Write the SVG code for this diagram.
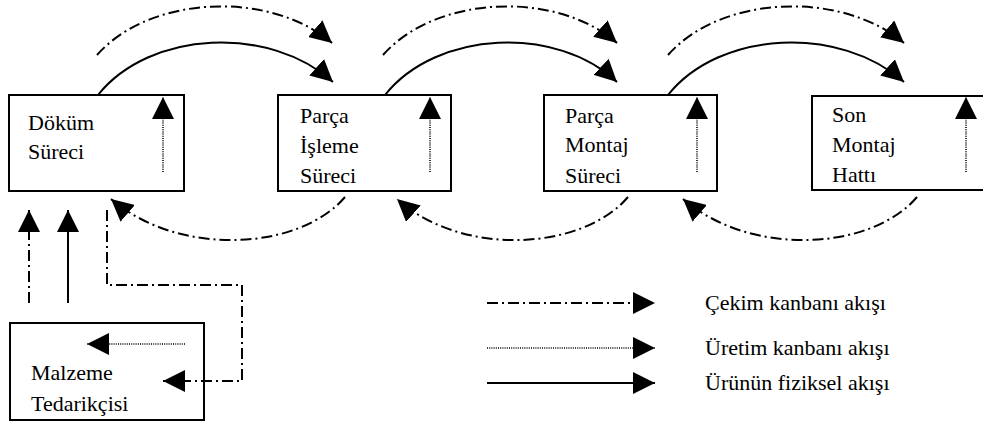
<svg xmlns="http://www.w3.org/2000/svg" width="983" height="430" viewBox="0 0 983 430">
<style>
.box{fill:#fff;stroke:#000;stroke-width:2}
.t{font-family:'Liberation Serif','Times New Roman',serif;font-size:22px;fill:#000}
.solid{fill:none;stroke:#000;stroke-width:2}
.pull{fill:none;stroke:#000;stroke-width:2;stroke-dasharray:11 4 2 4}
.prod{fill:none;stroke:#000;stroke-width:1.6;stroke-dasharray:1 1.2}
</style>
<defs>
<marker id="ah" viewBox="0 0 20 20" refX="20" refY="10" markerWidth="22" markerHeight="22" orient="auto" markerUnits="userSpaceOnUse">
<path d="M0,0 L20,10 L0,20 z" fill="#000"/>
</marker>
</defs>
<rect width="983" height="430" fill="#fff"/>
<g id="dokum">
<rect class="box" x="9" y="95" width="175" height="96"/>
<text class="t" x="28" y="130">Döküm</text>
<text class="t" x="28" y="159">Süreci</text>
</g>
<g id="isleme">
<rect class="box" x="278" y="95" width="173" height="96"/>
<text class="t" x="300" y="123">Parça</text>
<text class="t" x="300" y="153">İşleme</text>
<text class="t" x="300" y="183">Süreci</text>
</g>
<g id="montaj">
<rect class="box" x="544" y="95" width="173" height="96"/>
<text class="t" x="565" y="123">Parça</text>
<text class="t" x="565" y="152">Montaj</text>
<text class="t" x="565" y="183">Süreci</text>
</g>
<g id="sonmontaj">
<rect class="box" x="812" y="96" width="180" height="94"/>
<text class="t" x="832" y="122">Son</text>
<text class="t" x="832" y="152">Montaj</text>
<text class="t" x="832" y="182">Hattı</text>
</g>
<g id="tedarikci">
<rect class="box" x="10" y="323" width="194" height="97"/>
<text class="t" x="31" y="380">Malzeme</text>
<text class="t" x="31" y="411">Tedarikçisi</text>
</g>
<g id="legend">
<text class="t" x="705" y="310">Çekim kanbanı akışı</text>
<text class="t" x="705" y="355">Üretim kanbanı akışı</text>
<text class="t" x="705" y="390">Ürünün fiziksel akışı</text>
</g>
<g id="connectors">
<path class="prod" d="M163,172 V97" marker-end="url(#ah)"/>
<path class="prod" d="M430,172 V97" marker-end="url(#ah)"/>
<path class="prod" d="M697,172 V97" marker-end="url(#ah)"/>
<path class="prod" d="M966,172 V97" marker-end="url(#ah)"/>
<path class="solid" d="M98,95 C150,30 270,25 333,82" marker-end="url(#ah)"/>
<path class="solid" d="M385,95 C437,30 557,25 617,82" marker-end="url(#ah)"/>
<path class="solid" d="M668,95 C720,30 840,25 904,82" marker-end="url(#ah)"/>
<path class="pull" d="M97,55 C150,-5 270,-10 332,43" marker-end="url(#ah)"/>
<path class="pull" d="M383,55 C436,-5 556,-10 617,43" marker-end="url(#ah)"/>
<path class="pull" d="M668,55 C721,-5 841,-10 904,43" marker-end="url(#ah)"/>
<path class="pull" d="M345,197 C300,250 180,258 111,199" marker-end="url(#ah)"/>
<path class="pull" d="M628,197 C583,250 463,258 397,199" marker-end="url(#ah)"/>
<path class="pull" d="M917,197 C872,250 752,258 683,199" marker-end="url(#ah)"/>
<path class="pull" d="M29,303 V210" marker-end="url(#ah)"/>
<path class="solid" d="M68,303 V210" marker-end="url(#ah)"/>
<path class="pull" d="M107,210 V285 H242 V381 H163" marker-end="url(#ah)"/>
<path class="prod" d="M185,344 H87" marker-end="url(#ah)"/>
<path class="pull" d="M487,303 H655" marker-end="url(#ah)"/>
<path class="prod" d="M487,348 H655" marker-end="url(#ah)"/>
<path class="solid" d="M487,383 H655" marker-end="url(#ah)"/>
</g>
</svg>
